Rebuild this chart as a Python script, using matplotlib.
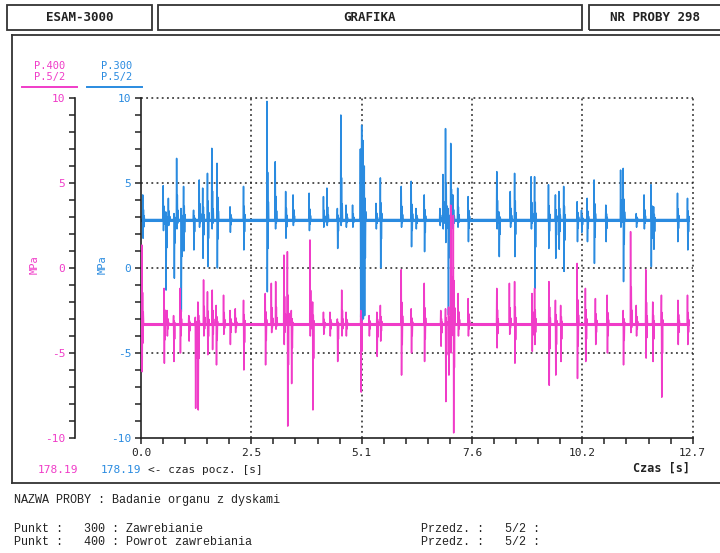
import numpy as np
import matplotlib.pyplot as plt
from matplotlib.lines import Line2D
from matplotlib.patches import Rectangle
from matplotlib.ticker import MultipleLocator

# ---------------------------------------------------------------- data
x_ticks = [0.0, 2.54, 5.08, 7.62, 10.16, 12.7]
x_ticklabels = ["0.0", "2.5", "5.1", "7.6", "10.2", "12.7"]
y_ticks = [-10, -5, 0, 5, 10]

t_start, t_end = 0.0, 12.6

# P.300 (blue): baseline and spikes (time, max, min) in MPa
blue_base = 2.85
blue_t = [0.04, 0.51, 0.57, 0.63, 0.76, 0.82, 0.92, 0.98, 1.21, 1.34, 1.42, 1.53,
          1.63, 1.75, 2.05, 2.36, 2.90, 3.09, 3.33, 3.50, 3.87, 4.20, 4.28, 4.52,
          4.60, 4.72, 4.87, 5.05, 5.08, 5.11, 5.14, 5.41, 5.51, 5.99, 6.22, 6.33,
          6.52, 6.88, 6.95, 7.01, 7.07, 7.13, 7.18, 7.29, 7.53, 8.19, 8.24, 8.50,
          8.60, 8.98, 9.06, 9.38, 9.54, 9.62, 9.73, 10.04, 10.14, 10.27, 10.43,
          10.70, 11.04, 11.10, 11.40, 11.58, 11.74, 11.80, 12.35, 12.58]
blue_hi = [4.3, 4.84, 3.3, 4.1, 3.2, 6.45, 3.5, 4.8, 3.4, 5.18, 4.7, 5.57,
           7.04, 6.16, 3.6, 4.8, 9.8, 6.25, 4.5, 4.3, 4.4, 4.2, 4.7, 3.5,
           9.0, 3.7, 3.7, 7.0, 8.4, 7.5, 6.0, 3.8, 5.3, 4.8, 5.1, 3.5,
           4.3, 3.5, 5.5, 8.2, 3.5, 7.33, 4.3, 4.7, 4.2, 5.67, 3.3, 4.5,
           5.57, 5.37, 5.37, 4.9, 4.3, 4.5, 4.8, 3.9, 3.4, 4.1, 5.18,
           3.7, 5.76, 5.86, 3.2, 4.3, 4.9, 3.6, 4.4, 4.1]
blue_lo = [1.75, 2.2, -1.3, 2.5, -0.6, 2.3, -2.57, 1.0, 1.06, 2.4, 0.57, 0.08,
           2.3, 0.0, 2.1, 1.06, -1.4, 2.3, 1.75, 2.5, 2.2, 2.4, 2.5, 1.15,
           2.5, 2.4, 2.4, -2.9, -3.15, -3.0, -2.8, 2.3, 0.0, 2.4, 1.25, 2.3,
           0.96, 2.5, 2.3, 1.5, -2.76, 2.0, 2.3, 2.4, 1.55, 2.3, 0.67, 2.4,
           0.67, 2.3, -1.2, 1.15, 0.57, 1.1, -0.2, 1.55, 2.1, 1.55, 0.27,
           1.55, 2.4, -0.8, 2.4, 2.3, 0.08, 1.1, 1.55, 1.06]

# P.400 (magenta)
mag_base = -3.3
mag_t = [0.02, 0.53, 0.60, 0.75, 0.90, 1.10, 1.25, 1.31, 1.44, 1.53, 1.64, 1.73,
         1.90, 2.05, 2.17, 2.36, 2.86, 3.00, 3.10, 3.29, 3.37, 3.46, 3.89, 3.95,
         4.20, 4.35, 4.52, 4.62, 4.72, 5.06, 5.25, 5.43, 5.51, 5.99, 6.22, 6.52,
         6.90, 7.01, 7.08, 7.13, 7.19, 7.30, 7.53, 8.19, 8.48, 8.60, 9.00, 9.06,
         9.39, 9.54, 9.66, 10.04, 10.23, 10.46, 10.73, 11.10, 11.27, 11.40, 11.62,
         11.78, 11.98, 12.36, 12.58]
mag_hi = [1.35, -1.2, -2.5, -2.8, -1.2, -2.8, -2.9, -2.0, -0.7, -1.4, -1.3, -2.2,
          -1.6, -2.5, -2.4, -1.9, -1.5, -0.9, -0.8, 0.76, 0.96, -2.5, 1.65, -2.0,
          -2.6, -2.6, -3.0, -1.3, -2.6, -2.5, -2.8, -2.6, -2.2, -0.1, -2.4, -0.9,
          -2.5, -2.4, -2.3, 3.7, 3.1, -1.5, -1.8, -1.2, -0.9, -0.8, -1.5, -1.2,
          -0.8, -1.9, -2.2, 0.27, -1.2, -1.8, -1.6, -2.5, 2.14, -2.2, -0.1,
          -2.0, -1.6, -1.9, -1.6]
mag_lo = [-6.1, -5.6, -4.0, -5.5, -5.0, -4.3, -8.25, -8.35, -4.0, -5.1, -4.8, -5.7,
          -3.9, -4.5, -3.8, -6.0, -5.7, -3.8, -3.6, -4.5, -9.3, -6.8, -4.0, -8.35,
          -3.9, -4.0, -5.5, -4.0, -4.0, -7.3, -4.0, -5.2, -4.3, -6.3, -5.0, -5.5,
          -4.6, -7.86, -6.3, -5.0, -9.7, -4.0, -4.0, -4.7, -3.9, -5.6, -4.9, -4.5,
          -6.9, -6.3, -5.5, -6.5, -5.5, -4.5, -5.0, -5.7, -3.8, -4.0, -5.3,
          -5.5, -7.6, -4.5, -4.5]

magenta = '#f03cc8'
blue = '#2a8be0'
mono = 'DejaVu Sans Mono'
typew = 'Liberation Mono'

W, H = 720, 553


def fx(x):
    return x / W


def fy(y):
    return 1 - y / H


def spike_trace(times, highs, lows, base):
    # each spike: main swing up and down, then a smaller ringing swing
    xs = [t_start]
    ys = [base]
    for t, hi, lo in zip(times, highs, lows):
        xs += [t - 0.006, t, t + 0.008, t + 0.016, t + 0.024, t + 0.032, t + 0.04]
        ys += [base, hi, lo, base + 0.4 * (hi - base), base + 0.4 * (lo - base),
               base + 0.15 * (hi - base), base]
    xs.append(t_end)
    ys.append(base)
    return xs, ys


fig = plt.figure(figsize=(7.2, 5.53), dpi=100)
fig.patch.set_facecolor('white')

# ---------------------------------------------------------------- header boxes
for x0, x1, label in [(7, 152, "ESAM-3000"), (158, 582, "GRAFIKA"), (589, 730, "NR PROBY 298")]:
    fig.add_artist(Rectangle((fx(x0), fy(30)), fx(x1) - fx(x0), (30 - 5) / H,
                             transform=fig.transFigure, fill=False, ec='#333333', lw=1.3))
    cx = (x0 + x1) / 2 if x1 < 720 else 655
    fig.text(fx(cx), fy(17.5), label, ha='center', va='center', family=mono,
             fontweight='bold', fontsize=9, color='#222222')

# main frame
fig.add_artist(Line2D([fx(12), 1.0], [fy(35), fy(35)], transform=fig.transFigure, color='#333333', lw=1.3))
fig.add_artist(Line2D([fx(12), fx(12)], [fy(35), fy(483)], transform=fig.transFigure, color='#333333', lw=1.3))
fig.add_artist(Line2D([fx(12), 1.0], [fy(483), fy(483)], transform=fig.transFigure, color='#333333', lw=1.3))

# ---------------------------------------------------------------- main plot
ax = fig.add_axes([fx(141), fy(438), fx(692.7) - fx(141), (438 - 98) / H])
ax.set_xlim(0, 12.7)
ax.set_ylim(-10, 10)
ax.patch.set_alpha(0)
for s in ['top', 'right']:
    ax.spines[s].set_visible(False)
for s in ['left', 'bottom']:
    ax.spines[s].set_linewidth(1.2)
    ax.spines[s].set_color('#222222')

grid_style = dict(color='#222222', lw=1.1, ls=(0, (1.2, 2.2)), zorder=1, clip_on=False)
for xv in x_ticks[1:]:
    ax.axvline(xv, **grid_style)
for yv in [-5, 0, 5, 10]:
    ax.axhline(yv, **grid_style)

ax.plot([t_start, t_end], [blue_base, blue_base], color=blue, lw=2.2, zorder=2)
bx, by = spike_trace(blue_t, blue_hi, blue_lo, blue_base)
ax.plot(bx, by, color=blue, lw=1.1, zorder=2)
ax.plot([t_start, t_end], [mag_base, mag_base], color=magenta, lw=2.2, zorder=3)
mx, my = spike_trace(mag_t, mag_hi, mag_lo, mag_base)
ax.plot(mx, my, color=magenta, lw=1.1, zorder=3)

ax.set_xticks(x_ticks)
ax.set_xticklabels(x_ticklabels, family=mono, fontsize=8, color='#222222')
ax.xaxis.set_minor_locator(MultipleLocator(12.7 / 25))
ax.set_yticks(y_ticks)
ax.set_yticklabels([str(v) for v in y_ticks], family=mono, fontsize=8, color=blue)
ax.yaxis.set_minor_locator(MultipleLocator(1))
ax.tick_params(which='both', direction='out', length=4, width=1.1, color='#222222', pad=3)

# magenta y axis
axm = fig.add_axes([fx(75), fy(438), 0.0005, (438 - 98) / H])
axm.set_ylim(-10, 10)
axm.patch.set_alpha(0)
for s in ['top', 'right', 'bottom']:
    axm.spines[s].set_visible(False)
axm.spines['left'].set_linewidth(1.2)
axm.spines['left'].set_color('#222222')
axm.set_xticks([])
axm.set_yticks(y_ticks)
axm.set_yticklabels([str(v) for v in y_ticks], family=mono, fontsize=8, color=magenta)
axm.yaxis.set_minor_locator(MultipleLocator(1))
axm.tick_params(which='both', direction='out', length=4, width=1.1, color='#222222', pad=3)

fig.text(fx(35), fy(265), "MPa", rotation=90, ha='center', va='center', family=mono, fontsize=7.5, color=magenta)
fig.text(fx(103), fy(265), "MPa", rotation=90, ha='center', va='center', family=mono, fontsize=7.5, color=blue)

# legend
fig.text(fx(50), fy(66), "P.400", ha='center', va='center', family=mono, fontsize=7.5, color=magenta)
fig.text(fx(50), fy(77), "P.5/2", ha='center', va='center', family=mono, fontsize=7.5, color=magenta)
fig.add_artist(Line2D([fx(22), fx(77)], [fy(87), fy(87)], transform=fig.transFigure, color=magenta, lw=1.4))
fig.text(fx(117), fy(66), "P.300", ha='center', va='center', family=mono, fontsize=7.5, color=blue)
fig.text(fx(117), fy(77), "P.5/2", ha='center', va='center', family=mono, fontsize=7.5, color=blue)
fig.add_artist(Line2D([fx(87), fx(142)], [fy(87), fy(87)], transform=fig.transFigure, color=blue, lw=1.4))

# bottom row inside frame
fig.text(fx(58), fy(470), "178.19", ha='center', va='center', family=mono, fontsize=8, color=magenta)
fig.text(fx(121), fy(470), "178.19", ha='center', va='center', family=mono, fontsize=8, color=blue)
fig.text(fx(148), fy(470), "<- czas pocz. [s]", ha='left', va='center', family=mono, fontsize=8, color='#222222')
fig.text(fx(690), fy(468), "Czas [s]", ha='right', va='center', family=mono, fontsize=8.5,
         fontweight='bold', color='#222222')

# ---------------------------------------------------------------- footer
fig.text(fx(14), fy(500), "NAZWA PROBY : Badanie organu z dyskami", ha='left', va='center',
         family=typew, fontsize=8.5, color='#222222')
fig.text(fx(14), fy(529), "Punkt :   300 : Zawrebianie", ha='left', va='center',
         family=typew, fontsize=8.5, color='#222222')
fig.text(fx(14), fy(542), "Punkt :   400 : Powrot zawrebiania", ha='left', va='center',
         family=typew, fontsize=8.5, color='#222222')
fig.text(fx(421), fy(529), "Przedz. :   5/2 :", ha='left', va='center',
         family=typew, fontsize=8.5, color='#222222')
fig.text(fx(421), fy(542), "Przedz. :   5/2 :", ha='left', va='center',
         family=typew, fontsize=8.5, color='#222222')

fig.savefig("out.png", dpi=100)
